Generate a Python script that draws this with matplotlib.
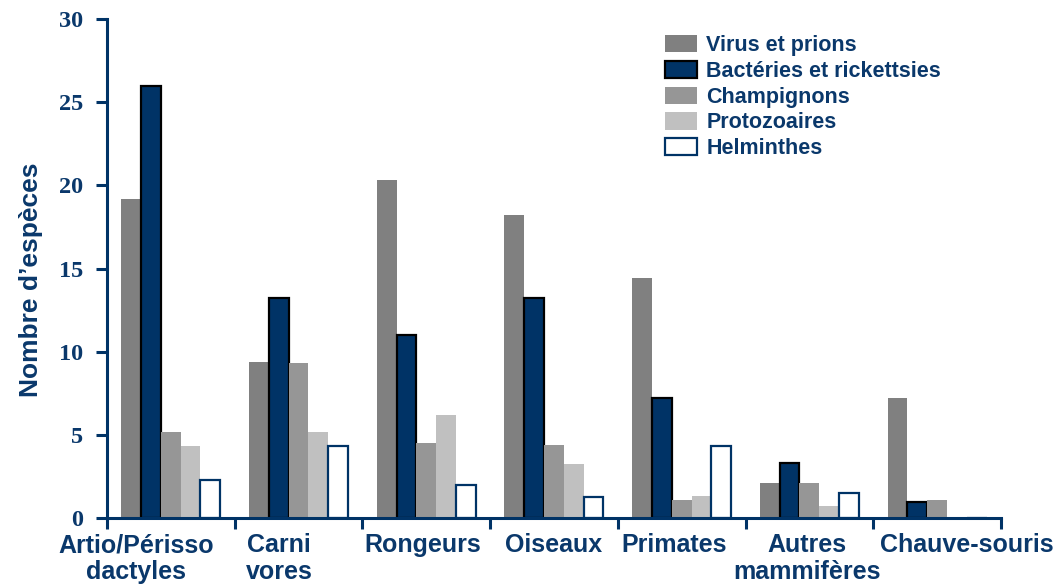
import matplotlib
matplotlib.use("Agg")
import matplotlib.pyplot as plt
import numpy as np

# données
groupes = ["Artio/Périsso\ndactyles", "Carni\nvores", "Rongeurs", "Oiseaux",
           "Primates", "Autres\nmammifères", "Chauve-souris"]
series = ["Virus et prions", "Bactéries et rickettsies", "Champignons",
          "Protozoaires", "Helminthes"]
virus = [19.2, 9.4, 20.3, 18.2, 14.4, 2.1, 7.2]
bacteries = [26.0, 13.2, 11.0, 13.2, 7.2, 3.3, 0.95]
champignons = [5.2, 9.3, 4.5, 4.4, 1.1, 2.1, 1.1]
protozoaires = [4.3, 5.2, 6.2, 3.25, 1.3, 0.7, 0.0]
helminthes = [2.3, 4.3, 2.0, 1.26, 4.3, 1.5, 0.0]
yticks = [0, 5, 10, 15, 20, 25, 30]

navy = '#003366'
txt = '#0a386b'
fill = ['#808080', navy, '#969696', '#c0c0c0', 'white']
edges = ['none', 'black', 'none', 'none', navy]
# décalage des libellés (unités de groupe)
lab_dx = [-0.27, -0.15, -0.03, 0.0, -0.06, -0.02, 0.23]

sans = 'Liberation Sans'
serif = 'Liberation Serif'

fig = plt.figure(figsize=(10.61, 5.88), dpi=100)
ax = fig.add_axes([0.1008, 0.119, 0.8426, 0.8487])

x = np.arange(len(groupes))
w = 0.155
data = [virus, bacteries, champignons, protozoaires, helminthes]
for k, vals in enumerate(data):
    ax.bar(x + (k - 2) * w, vals, w, color=fill[k], edgecolor=edges[k],
           linewidth=1.6 if edges[k] != 'none' else 0, label=series[k], zorder=2)

ax.set_xlim(-0.5, len(groupes) - 0.5)
ax.set_ylim(0, 30)
for s in ['top', 'right']:
    ax.spines[s].set_visible(False)
for s in ['left', 'bottom']:
    ax.spines[s].set_color(navy)
    ax.spines[s].set_linewidth(2.2)
    ax.spines[s].set_zorder(3)

ax.set_xticks(np.arange(-0.5, len(groupes)))
ax.set_xticklabels([])
ax.set_yticks(yticks)
ax.set_yticklabels([str(v) for v in yticks], fontfamily=serif,
                   fontweight='bold', fontsize=17.5, color=txt)
ax.tick_params(axis='both', color=navy, width=2.2, length=8, direction='out')
ax.tick_params(axis='y', pad=9)

for i, g in enumerate(groupes):
    ax.annotate(g, xy=(i + lab_dx[i], 0), xycoords=('data', 'axes fraction'),
                xytext=(0, -11), textcoords='offset points', ha='center', va='top',
                fontfamily=sans, fontweight='bold', fontsize=18, color=txt,
                linespacing=1.15)

ax.set_ylabel("Nombre d’espèces", fontfamily=sans, fontweight='bold',
              fontsize=19, color=txt)
ax.yaxis.set_label_coords(-0.072, 0.477)

leg = ax.legend(loc='upper left', bbox_to_anchor=(0.615, 0.985), frameon=False,
                prop={'family': sans, 'weight': 'bold', 'size': 15.5},
                handlelength=1.45, handleheight=0.85, labelspacing=0.22,
                handletextpad=0.45, borderaxespad=0)
for t in leg.get_texts():
    t.set_color(txt)

fig.savefig("out.png", dpi=100)
